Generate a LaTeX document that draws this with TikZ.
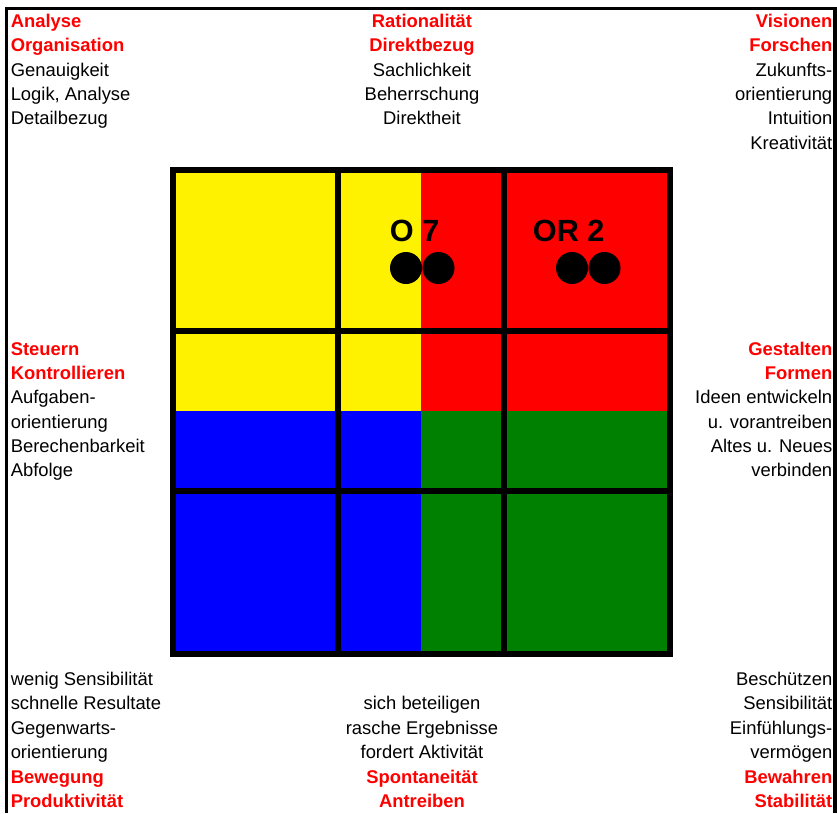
\documentclass[tikz,border=0pt]{standalone}
\usepackage{fontspec}
\setmainfont{Liberation Sans}
\usetikzlibrary{positioning}
\definecolor{gruen}{RGB}{0,128,0}
\newcommand{\kw}[1]{{\color{red}\bfseries #1}}

\begin{document}
\begin{tikzpicture}[x=0.75pt,y=-0.75pt,
    txt/.style={inner sep=0pt, font=\fontsize{13.8}{18.26}\selectfont},
    dot/.style={circle, fill=black, inner sep=0pt, minimum size=24pt},
    typ/.style={inner sep=0pt, font=\fontsize{23}{23}\selectfont\bfseries}]
        % Frame
        \useasboundingbox (0,0) rectangle (837,813);
        \draw[line width=2.6pt] (6.7,813) -- (6.7,8.5) -- (835,8.5) -- (835,813);

        % Quadrants
        \fill[yellow] (173,170) rectangle (421,410.5);
        \fill[red]    (421,170) rectangle (670,410.5);
        \fill[blue]   (173,410.5) rectangle (421,654);
        \fill[gruen]  (421,410.5) rectangle (670,654);
        \draw[line width=4.5pt] (173,170) rectangle (670,654);
        \draw[line width=4.5pt] (338,170) -- (338,654) (504,170) -- (504,654)
                                (173,331) -- (670,331) (173,491) -- (670,491);

        % Markers
        \node[dot]               (o1) at (406,268) {};
        \node[dot, right=0pt of o1] (o2) {};
        \node[dot]               (r1) at (572,268) {};
        \node[dot, right=0pt of r1] (r2) {};
        \node[typ, anchor=base west] (otyp) at (389.7,241) {O 7};
        \node[typ, anchor=base west] (rtyp) at (532.7,241) {OR 2};

        % Texts (anchored at the baseline of the last line)
        \node[txt, anchor=base west, align=left]  (analyse) at (10.5,124.9)
            {\kw{Analyse}\\\kw{Organisation}\\Genauigkeit\\Logik, Analyse\\Detailbezug};
        \node[txt, anchor=base, align=center]     (ratio) at (422,124.9)
            {\kw{Rationalität}\\\kw{Direktbezug}\\Sachlichkeit\\Beherrschung\\Direktheit};
        \node[txt, anchor=base east, align=right] (vision) at (832.5,149.25)
            {\kw{Visionen}\\\kw{Forschen}\\Zukunfts-\\orientierung\\Intuition\\Kreativität};
        \node[txt, anchor=base west, align=left]  (steuern) at (10.5,476.75)
            {\kw{Steuern}\\\kw{Kontrollieren}\\Aufgaben-\\orientierung\\Berechenbarkeit\\Abfolge};
        \node[txt, anchor=base east, align=right] (gestalten) at (832.5,476.75)
            {\kw{Gestalten}\\\kw{Formen}\\Ideen entwickeln\\u. vorantreiben\\Altes u. Neues\\verbinden};
        \node[txt, anchor=base west, align=left]  (bewegung) at (10.5,807.35)
            {wenig Sensibilität\\schnelle Resultate\\Gegenwarts-\\orientierung\\\kw{Bewegung}\\\kw{Produktivität}};
        \node[txt, anchor=base, align=center]     (spontan) at (422,807.35)
            {sich beteiligen\\rasche Ergebnisse\\fordert Aktivität\\\kw{Spontaneität}\\\kw{Antreiben}};
        \node[txt, anchor=base east, align=right] (bewahren) at (832.5,807.35)
            {Beschützen\\Sensibilität\\Einfühlungs-\\vermögen\\\kw{Bewahren}\\\kw{Stabilität}};
    \end{tikzpicture}
\end{document}
